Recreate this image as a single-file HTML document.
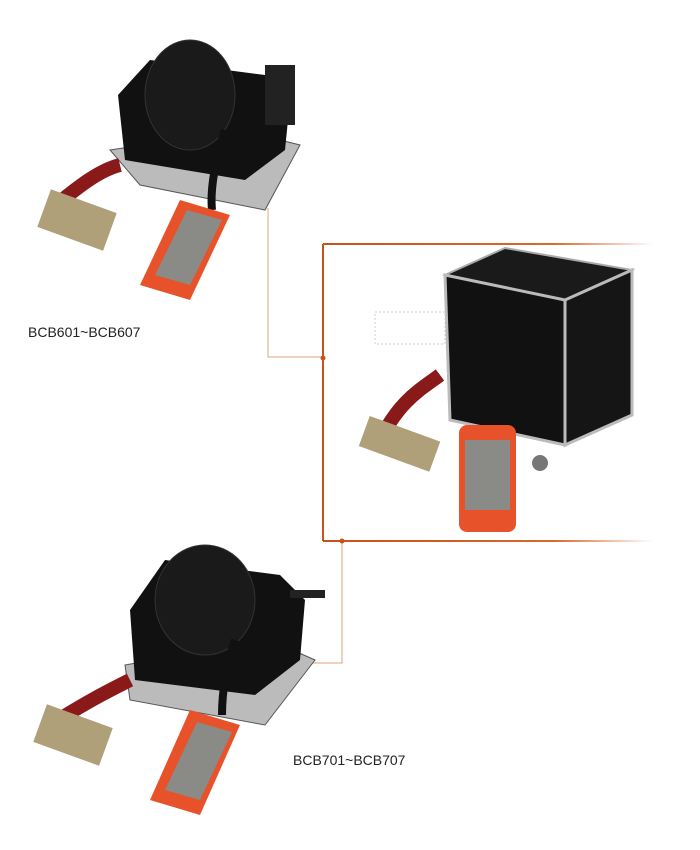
<!DOCTYPE html>
<html><head><meta charset="utf-8"><style>
body{margin:0;background:#fff;width:700px;height:850px;overflow:hidden;font-family:"Liberation Sans",sans-serif}
.t{position:absolute;font-size:14px;color:#222}
</style></head><body>
<svg width="700" height="850" style="position:absolute;left:0;top:0">
<defs>
<linearGradient id="fd" x1="0" x2="1"><stop offset="0" stop-color="#c8511c"/><stop offset="0.7" stop-color="#d9692e"/><stop offset="1" stop-color="#d9692e" stop-opacity="0"/></linearGradient>
</defs>
<!-- connectors -->
<polyline points="268,208 268,357 323,357" fill="none" stroke="#e0a080" stroke-width="1"/>
<polyline points="342,541 342,663 285,663" fill="none" stroke="#e0a080" stroke-width="1"/>
<line x1="323" y1="244" x2="323" y2="541" stroke="#c8511c" stroke-width="2"/>
<rect x="323" y="243" width="330" height="2" fill="url(#fd)"/>
<rect x="323" y="540" width="330" height="2" fill="url(#fd)"/>
<circle cx="323" cy="358" r="2.5" fill="#c8511c"/>
<circle cx="342" cy="541" r="2.5" fill="#c8511c"/>

<!-- reel 1 -->
<g>
<polygon points="110,150 240,130 300,145 265,210 140,185" fill="#bbb" stroke="#555"/>
<polygon points="118,95 150,60 265,75 290,100 285,150 245,180 125,160" fill="#111"/>
<ellipse cx="190" cy="95" rx="45" ry="55" fill="#1a1a1a" stroke="#333"/>
<rect x="265" y="65" width="30" height="60" fill="#222"/>
<path d="M50,210 C80,185 100,170 120,165" stroke="#8a1a1a" stroke-width="14" fill="none"/>
<rect x="42" y="200" width="70" height="40" fill="#b0a07a" transform="rotate(20 77 220)"/>
<path d="M225,130 C215,160 210,190 212,210" stroke="#111" stroke-width="8" fill="none"/>
<polygon points="180,200 230,215 190,300 140,285" fill="#e8522a"/>
<polygon points="187,210 222,220 190,285 155,275" fill="#8a8a86"/>
</g>

<!-- case -->
<g>
<polygon points="445,275 505,248 632,270 565,300" fill="#1a1a1a" stroke="#aaa" stroke-width="2"/>
<polygon points="445,275 565,300 565,445 450,420" fill="#111" stroke="#bbb" stroke-width="3"/>
<polygon points="565,300 632,270 632,415 565,445" fill="#151515" stroke="#bbb" stroke-width="3"/>
<rect x="375" y="312" width="70" height="32" fill="none" stroke="#ccc" stroke-dasharray="2,2"/>
<circle cx="540" cy="463" r="8" fill="#777"/>
<path d="M380,440 C400,400 420,390 440,375" stroke="#8a1a1a" stroke-width="14" fill="none"/>
<rect x="362" y="428" width="75" height="32" fill="#b0a07a" transform="rotate(20 400 444)"/>
<path d="M490,340 C485,380 488,410 490,430" stroke="#111" stroke-width="8" fill="none"/>
<rect x="459" y="425" width="57" height="107" rx="8" fill="#e8522a"/>
<rect x="465" y="440" width="45" height="70" fill="#8a8a86"/>
</g>

<!-- reel 2 -->
<g>
<polygon points="125,665 270,640 315,660 265,725 130,700" fill="#bbb" stroke="#555"/>
<polygon points="130,610 165,560 280,575 305,600 300,660 255,695 135,680" fill="#111"/>
<ellipse cx="205" cy="600" rx="50" ry="55" fill="#1a1a1a" stroke="#333"/>
<rect x="290" y="590" width="35" height="8" fill="#222"/>
<path d="M50,725 C90,700 110,690 130,680" stroke="#8a1a1a" stroke-width="14" fill="none"/>
<rect x="38" y="715" width="70" height="40" fill="#b0a07a" transform="rotate(20 73 735)"/>
<path d="M235,640 C225,670 222,695 222,715" stroke="#111" stroke-width="8" fill="none"/>
<polygon points="190,710 240,725 200,815 150,800" fill="#e8522a"/>
<polygon points="197,722 232,732 200,800 165,790" fill="#8a8a86"/>
</g>
</svg>
<div class="t" style="left:28px;top:324px">BCB601~BCB607</div>
<div class="t" style="left:293px;top:752px">BCB701~BCB707</div>
</body></html>
